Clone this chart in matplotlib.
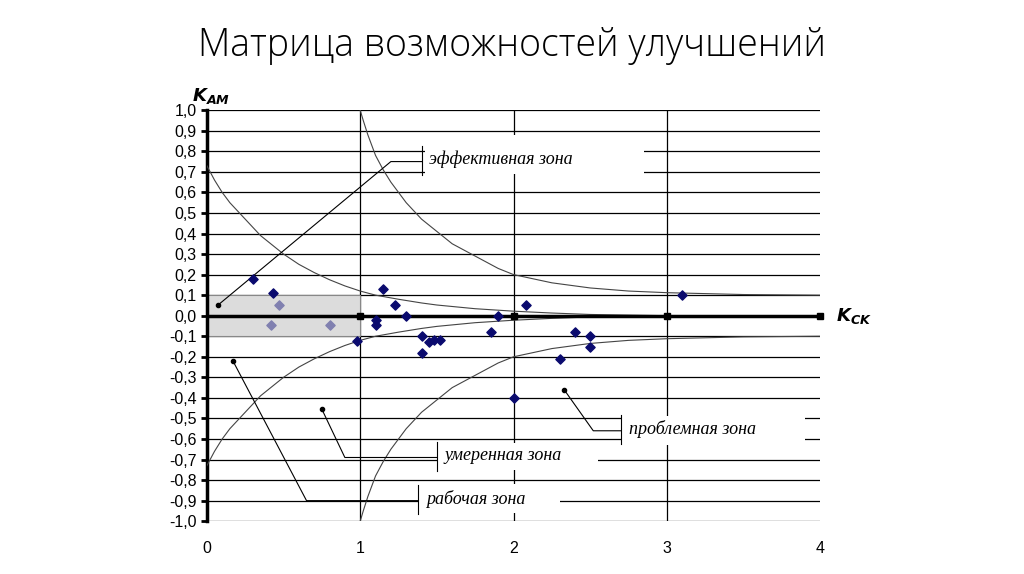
import matplotlib
matplotlib.use('Agg')
import matplotlib.pyplot as plt
import numpy as np

plt.rcParams['font.family'] = ['Liberation Sans', 'DejaVu Sans']

# boundary curves (upper halves; lower halves mirrored)
curve_a_x = [0, 0.05, 0.1, 0.15, 0.2, 0.25, 0.3, 0.35, 0.4, 0.5, 0.6, 0.7, 0.8, 0.9, 1.0,
             1.1, 1.25, 1.4, 1.5, 1.75, 2.0, 2.25, 2.5, 3.0, 4.0]
curve_a_y = [0.73, 0.66, 0.6, 0.55, 0.51, 0.47, 0.43, 0.39, 0.36, 0.3, 0.25, 0.21, 0.175, 0.145, 0.12,
             0.1, 0.08, 0.062, 0.052, 0.034, 0.022, 0.013, 0.006, 0.0, 0.0]
curve_b_x = [1.0, 1.02, 1.05, 1.08, 1.1, 1.15, 1.2, 1.25, 1.3, 1.4, 1.5, 1.6, 1.75, 1.9, 2.0,
             2.25, 2.5, 2.75, 3.0, 3.5, 4.0]
curve_b_y = [1.0, 0.95, 0.88, 0.82, 0.78, 0.71, 0.65, 0.6, 0.55, 0.47, 0.41, 0.35, 0.29, 0.23, 0.2,
             0.16, 0.135, 0.12, 0.112, 0.103, 0.1]

pts_x = [0.3, 0.43, 1.15, 1.23, 1.3, 1.1, 1.1, 0.98, 1.4, 1.4, 1.45, 1.48, 1.52,
         1.85, 1.9, 2.08, 2.0, 2.3, 2.4, 2.5, 2.5, 3.1]
pts_y = [0.18, 0.11, 0.13, 0.05, 0.0, -0.02, -0.045, -0.125, -0.1, -0.18, -0.13, -0.12, -0.12,
         -0.08, 0.0, 0.05, -0.4, -0.21, -0.08, -0.1, -0.15, 0.1]
light_x = [0.47, 0.42, 0.8]
light_y = [0.05, -0.045, -0.045]

# zone labels: text, dot, elbow, bar x, white box (x0, x1, y0, y1)
zones = [
    ('эффективная зона', (0.07, 0.05), (1.2, 0.75), 1.4, (1.42, 2.85, 0.69, 0.88)),
    ('умеренная зона', (0.75, -0.455), (0.9, -0.69), 1.5, (1.5, 2.55, -0.75, -0.62)),
    ('рабочая зона', (0.17, -0.22), (0.65, -0.9), 1.38, (1.38, 2.3, -0.96, -0.82)),
    ('проблемная зона', (2.33, -0.36), (2.52, -0.56), 2.7, (2.7, 3.9, -0.63, -0.49)),
]

fig = plt.figure(figsize=(10.24, 5.74), dpi=100)
ax = fig.add_axes([0.202, 0.092, 0.599, 0.716])
ax.set_xlim(0, 4)
ax.set_ylim(-1, 1)

for y in np.arange(-1, 1.01, 0.1):
    ax.axhline(y, color='black', lw=0.9, zorder=1)
for x in [1, 2, 3]:
    ax.axvline(x, color='black', lw=0.9, zorder=1)

ax.add_patch(plt.Rectangle((0, -0.1), 1, 0.2, facecolor='#dcdcdc', edgecolor='#888888', lw=0.8, zorder=2))

for cx, cy in [(curve_a_x, curve_a_y), (curve_b_x, curve_b_y)]:
    ax.plot(cx, cy, color='#444444', lw=0.8, zorder=3)
    ax.plot(cx, [-v for v in cy], color='#444444', lw=0.8, zorder=3)

ax.axhline(0, color='black', lw=2.5, zorder=4)
ax.plot([1, 2, 3, 4], [0, 0, 0, 0], 's', color='black', ms=4, zorder=4, clip_on=False)

for text, dot, elbow, bx, box in zones:
    x0, x1, y0, y1 = box
    ax.add_patch(plt.Rectangle((x0, y0), x1 - x0, y1 - y0, facecolor='white', edgecolor='none', zorder=5))
    ax.plot([dot[0], elbow[0], bx], [dot[1], elbow[1], elbow[1]], color='black', lw=0.8, zorder=6)
    ax.plot(dot[0], dot[1], 'o', color='black', ms=3, zorder=6)
    ax.plot([bx, bx], [elbow[1] - 0.065, elbow[1] + 0.075], color='black', lw=0.8, zorder=6)
    ax.text(bx + 0.05, elbow[1] + 0.01, text, style='italic', family=['Liberation Serif'],
            fontsize=13, va='center', ha='left', zorder=6)

ax.scatter(pts_x, pts_y, marker='D', s=22, color='#0a0a6e', zorder=7)
ax.scatter(light_x, light_y, marker='D', s=22, color='#8080b0', zorder=7)

for s in ['top', 'right', 'bottom']:
    ax.spines[s].set_visible(False)
ax.spines['left'].set_linewidth(2.5)
yt = np.round(np.arange(-1, 1.01, 0.1), 1)
ax.set_xticks([0, 1, 2, 3, 4])
ax.set_yticks(yt)
ax.set_yticklabels([f'{abs(v) if v == 0 else v:.1f}'.replace('.', ',') for v in yt])
ax.tick_params(axis='x', length=0, pad=14, labelsize=11.5)
ax.tick_params(axis='y', length=4, width=2, labelsize=11.5)

ax.text(-0.1, 1.07, '$\\mathbfit{K}_{\\mathbfit{AM}}$', fontsize=13, ha='left', va='center', clip_on=False)
ax.text(4.1, 0.0, '$\\mathbfit{K}_{\\mathbfit{CK}}$', fontsize=13, ha='left', va='center', clip_on=False)

fig.text(0.5, 0.92, 'Матрица возможностей улучшений', ha='center', va='center',
         fontsize=27, family=['Open Sans', 'DejaVu Sans'], fontweight='light')

fig.savefig('out.png', dpi=100)
